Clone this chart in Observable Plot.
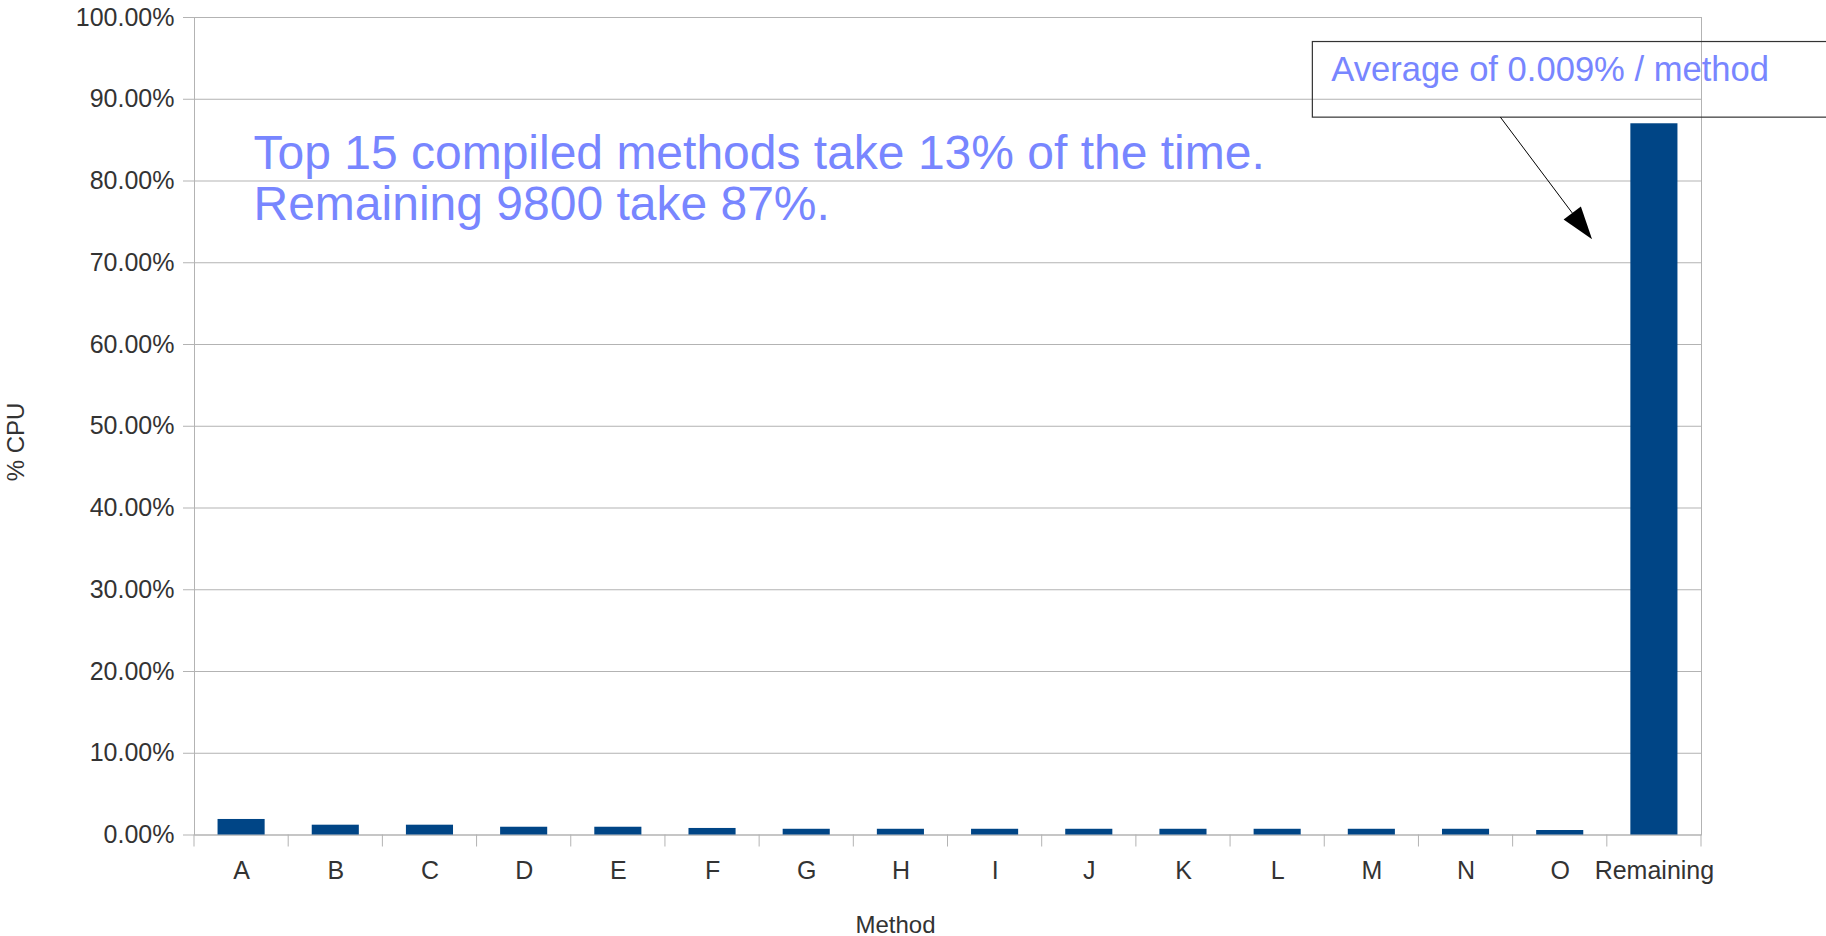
<!DOCTYPE html>
<html>
<head>
<meta charset="utf-8">
<script src="https://cdn.jsdelivr.net/npm/d3@7"></script>
<script src="https://cdn.jsdelivr.net/npm/@observablehq/plot@0.6"></script>
<style>
  html, body { margin: 0; padding: 0; background: #fff; }
  #chart svg { display: block; }
</style>
</head>
<body>
<div id="chart"></div>
<script>
// Share of CPU time per compiled method (percent)
const methods = ["A", "B", "C", "D", "E", "F", "G", "H", "I", "J", "K", "L", "M", "N", "O", "Remaining"];
const cpuShare = [1.9, 1.2, 1.2, 0.95, 0.95, 0.8, 0.7, 0.7, 0.7, 0.7, 0.7, 0.7, 0.7, 0.7, 0.55, 87];
const yTicks = [0, 10, 20, 30, 40, 50, 60, 70, 80, 90, 100];
const xTitle = "Method";
const yTitle = "% CPU";
const headline = ["Top 15 compiled methods take 13% of the time.", "Remaining 9800 take 87%."];
const calloutText = "Average of 0.009% / method";

const rows = methods.map((method, i) => ({method, share: cpuShare[i]}));

const FONT = "'Liberation Sans', Arial, sans-serif";
const GRID = "#b3b3b3";
const INK = "#333333";
const BAR = "#004586";
const NOTE = "#7886ff";

const chart = Plot.plot({
  width: 1826,
  height: 936,
  marginLeft: 194,
  marginRight: 125,
  marginTop: 17,
  marginBottom: 101.5,
  style: {fontFamily: FONT, background: "#fff", overflow: "visible"},
  x: {domain: methods, paddingInner: 0.5, paddingOuter: 0.25, round: false},
  y: {domain: [0, 100]},
  marks: [
    Plot.gridY(yTicks, {stroke: GRID, strokeOpacity: 1}),
    Plot.frame({stroke: GRID}),
    Plot.axisY(yTicks, {
      tickSize: 11, tickPadding: 9, stroke: GRID, fill: INK, fontSize: 25,
      tickFormat: d => d.toFixed(2) + "%", label: null
    }),
    Plot.axisX({tickSize: 0, tickPadding: 26, fill: INK, fontSize: 25, label: null}),
    Plot.barY(rows, {x: "method", y: "share", fill: BAR}),
    Plot.text([yTitle], {text: d => d, frameAnchor: "left", dx: -178, dy: 55, rotate: -90, fontSize: 24, fill: INK}),
    Plot.text([xTitle], {text: d => d, frameAnchor: "bottom", dx: -52.5, dy: 81, lineAnchor: "top", fontSize: 24, fill: INK}),
    Plot.text([headline.join("\n")], {
      text: d => d, frameAnchor: "top-left", textAnchor: "start", lineAnchor: "top",
      dx: 59, dy: 115, fontSize: 48, lineHeight: 1.07, fill: NOTE
    })
  ]
});

document.getElementById("chart").appendChild(chart);

// Category separators on the x axis and the callout pointing at the last bar
const svg = d3.select(chart);
const xs = chart.scale("x");
const ys = chart.scale("y");
const gap = xs.step - xs.bandwidth;
const bounds = methods.map(m => xs.apply(m) - gap / 2)
  .concat([xs.apply(methods[methods.length - 1]) + xs.bandwidth + gap / 2]);
const y0 = ys.apply(0);

svg.append("g")
  .attr("stroke", GRID)
  .selectAll("line")
  .data(bounds)
  .join("line")
  .attr("x1", d => d).attr("x2", d => d)
  .attr("y1", y0).attr("y2", y0 + 12);

const barLeft = xs.apply("Remaining");
const boxLeft = barLeft - 318;
const boxTop = ys.apply(97);
const boxBottom = ys.apply(87.75);
const note = svg.append("g");

note.append("rect")
  .attr("x", boxLeft).attr("y", boxTop)
  .attr("width", 1826 - boxLeft + 4).attr("height", boxBottom - boxTop)
  .attr("fill", "none").attr("stroke", "#333").attr("stroke-width", 1.2);

note.append("text")
  .attr("x", boxLeft + 19).attr("y", boxTop + 39.7)
  .attr("text-anchor", "start")
  .attr("font-family", FONT).attr("font-size", 34.6).attr("fill", NOTE)
  .text(calloutText);

// Arrow from the callout to the top of the tall bar
const start = [barLeft - 130, boxBottom];
const tip = [barLeft - 38.3, ys.apply(72.8)];
const len = Math.hypot(tip[0] - start[0], tip[1] - start[1]);
const ux = (tip[0] - start[0]) / len, uy = (tip[1] - start[1]) / len;
const headLen = 33, headHalf = 10.8;
const base = [tip[0] - ux * headLen, tip[1] - uy * headLen];
note.append("line")
  .attr("x1", start[0]).attr("y1", start[1])
  .attr("x2", base[0]).attr("y2", base[1])
  .attr("stroke", "#000").attr("stroke-width", 1);
note.append("polygon")
  .attr("points", [
    tip,
    [base[0] - uy * headHalf, base[1] + ux * headHalf],
    [base[0] + uy * headHalf, base[1] - ux * headHalf]
  ].map(p => p.join(",")).join(" "))
  .attr("fill", "#000");
</script>
</body>
</html>
